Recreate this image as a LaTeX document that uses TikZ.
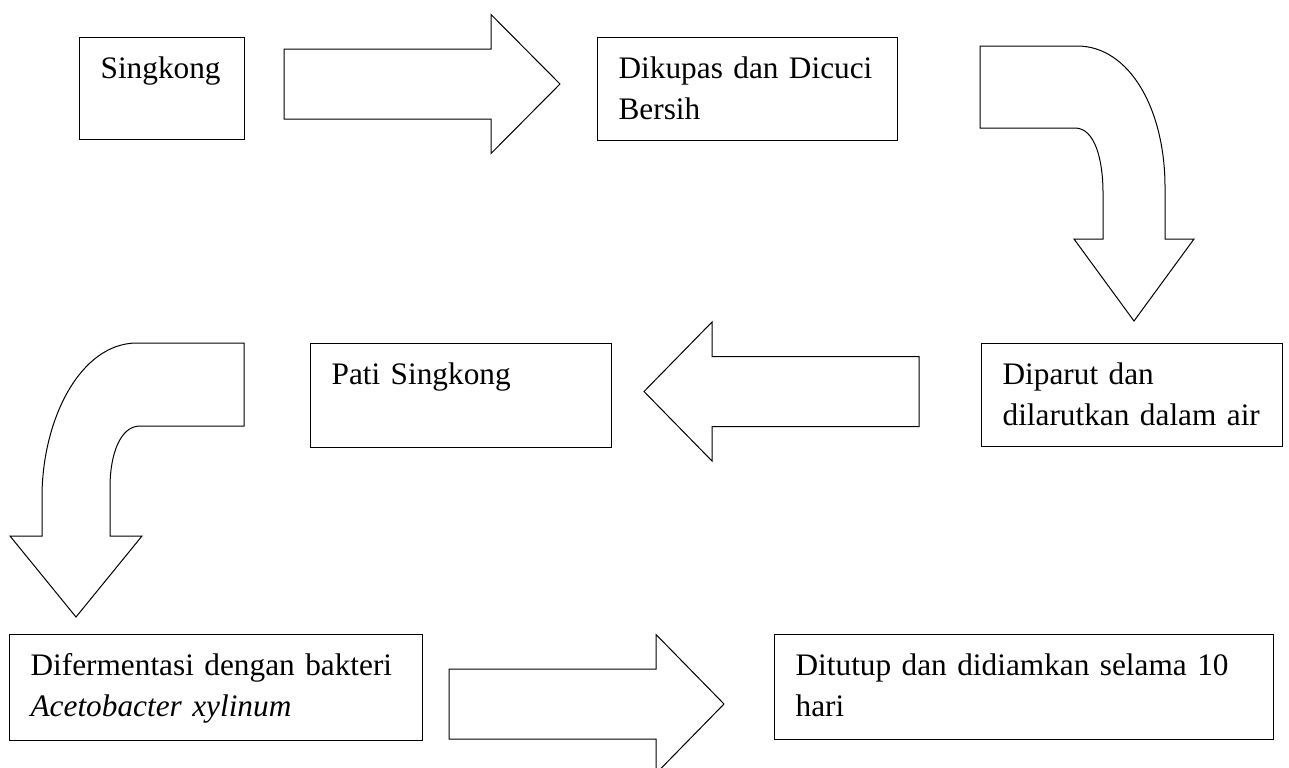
\documentclass[tikz,border=0pt]{standalone}
\usepackage{fontspec}
\setmainfont{Liberation Serif}
\usetikzlibrary{positioning}

\tikzset{
  kotak/.style={draw, line width=0.6pt, anchor=north west, inner xsep=10.5pt, inner ysep=0pt,
    align=left, text height=20.25pt, font=\fontsize{15.65pt}{20.5pt}\selectfont},
  panah/.style={draw, line width=0.5pt, line join=miter, fill=white}
}

\begin{document}
\begin{tikzpicture}[x=0.5pt,y=-0.5pt]
\useasboundingbox (0,0) rectangle (1289,767);
\clip (0,0) rectangle (1289,767);
% kotak proses
\node[kotak, text width=61.5pt, text depth=30.75pt] (singkong) at (79,37) {Singkong};
\node[kotak, text width=129pt, text depth=31.25pt] (kupas) at (597,37) {Dikupas dan Dicuci\\Bersih};
\node[kotak, text width=129.5pt, text depth=31.25pt] (parut) at (981,343) {Diparut dan\\dilarutkan dalam air};
\node[kotak, text width=129.5pt, text depth=31.75pt] (pati) at (310,343) {Pati Singkong};
\node[kotak, text width=185.5pt, text depth=32.75pt] (fermentasi) at (9,634) {Difermentasi dengan bakteri\\\textit{Acetobacter xylinum}};
\node[kotak, text width=228.5pt, text depth=32.25pt] (tutup) at (774,634) {Ditutup dan didiamkan selama 10\\hari};
% panah lurus
\foreach \xa/\xb/\xc/\yc in {284/491/560/84,919/712/644/391.5,449/656/724/704} {
  \draw[panah] (\xa,\yc-35) -- (\xb,\yc-35) -- (\xb,\yc-69.5) -- (\xc,\yc)
    -- (\xb,\yc+69.5) -- (\xb,\yc+35) -- (\xa,\yc+35) -- cycle;
}
% panah lengkung
\draw[panah] (980,46) -- (1077,46) .. controls (1130,46) and (1165,110) .. (1165,187)
  -- (1165,239) -- (1194,239) -- (1134,321) -- (1074,239) -- (1103,239) -- (1103,193)
  .. controls (1103,160) and (1095,128) .. (1075,128) -- (980,128) -- cycle;
\draw[panah] (244,343) -- (137,343) .. controls (80,343) and (42,420) .. (42,497)
  -- (42,536) -- (10,536) -- (76,617) -- (142,536) -- (110,536) -- (110,487)
  .. controls (110,455) and (120,426) .. (140,426) -- (244,426) -- cycle;
\end{tikzpicture}
\end{document}
